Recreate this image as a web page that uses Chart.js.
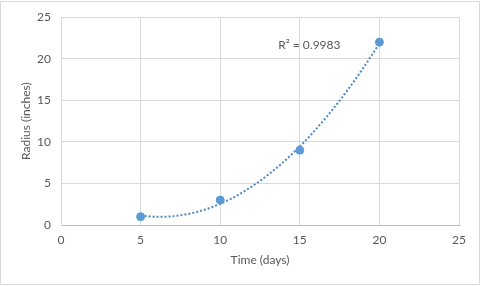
<!DOCTYPE html>
<html>
<head>
<meta charset="utf-8">
<script src="https://cdn.jsdelivr.net/npm/chart.js@4.4.1/dist/chart.umd.min.js"></script>
<style>
  html, body { margin: 0; padding: 0; background: #ffffff; }
  #wrap { position: relative; width: 480px; height: 286px; }
</style>
</head>
<body>
<div id="wrap"><canvas id="c" width="480" height="286"></canvas></div>
<script>
// ---- Data ----
const timeDays = [5, 10, 15, 20];
const radiusInches = [1, 3, 9, 22];
const xTicks = [0, 5, 10, 15, 20, 25];
const yTicks = [0, 5, 10, 15, 20, 25];
const xTitle = 'Time (days)';
const yTitle = 'Radius (inches)';
const r2LabelAnchor = [15.6, 21.6]; // data-unit anchor of the R² label

// ---- Order-2 polynomial least-squares trendline (like Excel) ----
function polyFit2(xs, ys) {
  const n = xs.length;
  let s = [0,0,0,0,0], t = [0,0,0];
  for (let i = 0; i < n; i++) {
    const x = xs[i], y = ys[i];
    for (let k = 0; k <= 4; k++) s[k] += Math.pow(x, k);
    for (let k = 0; k <= 2; k++) t[k] += y * Math.pow(x, k);
  }
  const A = [[s[0], s[1], s[2], t[0]], [s[1], s[2], s[3], t[1]], [s[2], s[3], s[4], t[2]]];
  for (let i = 0; i < 3; i++) {
    let p = i;
    for (let r = i + 1; r < 3; r++) if (Math.abs(A[r][i]) > Math.abs(A[p][i])) p = r;
    [A[i], A[p]] = [A[p], A[i]];
    for (let r = 0; r < 3; r++) {
      if (r === i) continue;
      const f = A[r][i] / A[i][i];
      for (let c = i; c < 4; c++) A[r][c] -= f * A[i][c];
    }
  }
  return [A[0][3] / A[0][0], A[1][3] / A[1][1], A[2][3] / A[2][2]];
}
const coef = polyFit2(timeDays, radiusInches);
const fitAt = x => coef[0] + coef[1] * x + coef[2] * x * x;
const meanY = radiusInches.reduce((a, b) => a + b, 0) / radiusInches.length;
let ssRes = 0, ssTot = 0;
timeDays.forEach((x, i) => { ssRes += (radiusInches[i] - fitAt(x)) ** 2; ssTot += (radiusInches[i] - meanY) ** 2; });
const r2 = 1 - ssRes / ssTot;

const xMin = Math.min(...timeDays), xMax = Math.max(...timeDays);
const trend = [];
for (let i = 0; i <= 150; i++) {
  const x = xMin + (xMax - xMin) * i / 150;
  trend.push({ x: x, y: fitAt(x) });
}

const FONT = "Lato, 'Open Sans', 'Liberation Sans', sans-serif";
const TXT = '#595959';

const framePlugin = {
  id: 'frame',
  afterDraw(chart) {
    const ctx = chart.ctx;
    ctx.save();
    ctx.strokeStyle = '#d9d9d9';
    ctx.lineWidth = 1;
    ctx.strokeRect(0.5, 1.5, 479, 283);
    // R² label
    const xs = chart.scales.x, ys = chart.scales.y;
    ctx.fillStyle = TXT;
    ctx.font = "12px " + FONT;
    ctx.textAlign = 'center';
    ctx.textBaseline = 'middle';
    ctx.fillText('R\u00B2 = ' + r2.toFixed(4), xs.getPixelForValue(r2LabelAnchor[0]), ys.getPixelForValue(r2LabelAnchor[1]));
    ctx.restore();
  }
};

new Chart(document.getElementById('c'), {
  type: 'scatter',
  data: {
    datasets: [
      {
        label: 'Radius',
        data: timeDays.map((x, i) => ({ x: x, y: radiusInches[i] })),
        backgroundColor: '#5b9bd5',
        borderColor: '#5b9bd5',
        pointRadius: 4,
        pointHoverRadius: 4,
        order: 1
      },
      {
        label: 'Trend',
        type: 'line',
        data: trend,
        borderColor: '#4f8bc0',
        borderWidth: 2,
        borderDash: [2, 2],
        pointRadius: 0,
        fill: false,
        tension: 0,
        order: 2
      }
    ]
  },
  options: {
    responsive: false,
    animation: false,
    events: [],
    layout: { padding: { top: 14, right: 21, bottom: 0, left: 0 } },
    plugins: { legend: { display: false }, tooltip: { enabled: false } },
    scales: {
      x: {
        type: 'linear',
        min: xTicks[0], max: xTicks[xTicks.length - 1],
        afterBuildTicks: s => { s.ticks = xTicks.map(v => ({ value: v })); },
        afterFit: s => { s.height = 61; },
        grid: { color: '#d9d9d9', drawTicks: false },
        border: { color: '#bfbfbf' },
        ticks: { color: TXT, font: { family: FONT, size: 12 }, padding: 8, maxRotation: 0 },
        title: { display: true, text: xTitle, color: TXT, font: { family: FONT, size: 12 }, padding: { top: 4, bottom: 19 } }
      },
      y: {
        type: 'linear',
        min: yTicks[0], max: yTicks[yTicks.length - 1],
        afterBuildTicks: s => { s.ticks = yTicks.map(v => ({ value: v })); },
        afterFit: s => { s.width = 61; },
        grid: { color: '#d9d9d9', drawTicks: false },
        border: { color: '#d9d9d9' },
        ticks: { color: TXT, font: { family: FONT, size: 12 }, padding: 10 },
        title: { display: true, text: yTitle, color: TXT, font: { family: FONT, size: 12 }, padding: { top: 19, bottom: 4 } }
      }
    }
  },
  plugins: [framePlugin]
});
</script>
</body>
</html>
